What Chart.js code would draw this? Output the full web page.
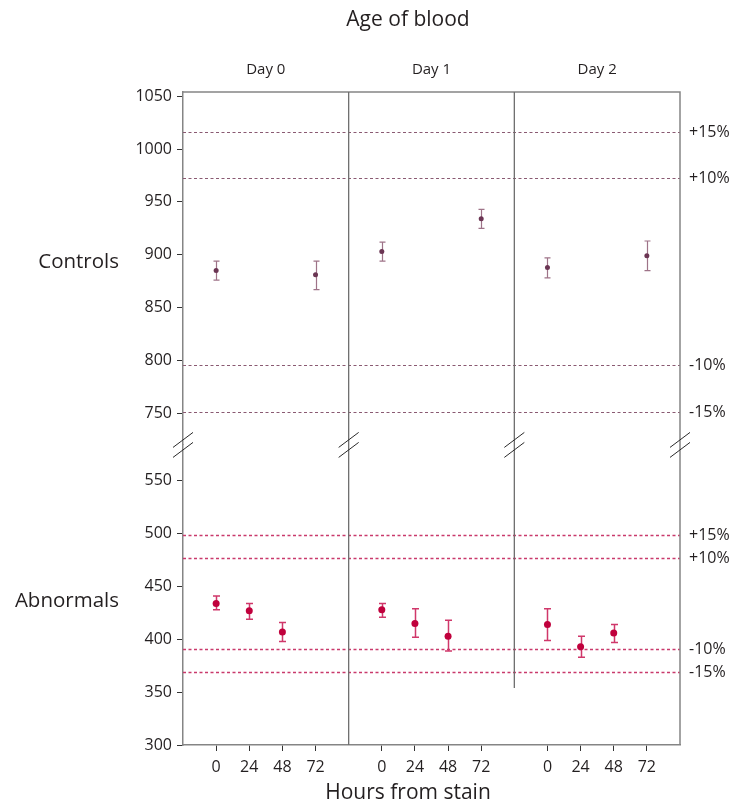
<!DOCTYPE html>
<html>
<head>
<meta charset="utf-8">
<script src="https://cdn.jsdelivr.net/npm/chart.js@4.4.1/dist/chart.umd.min.js"></script>
<style>
  html, body { margin: 0; padding: 0; background: #fff; }
  #wrap { width: 738px; height: 804px; }
</style>
</head>
<body>
<div id="wrap"><canvas id="chart"></canvas></div>
<script>
// Data
const dayLabels = ['Day 0', 'Day 1', 'Day 2'];
const hourTicks = [0, 24, 48, 72];
const DAY_SPAN = 120;

const controlDay = [0, 0, 1, 1, 2, 2];
const controlHour = [0, 72, 0, 72, 0, 72];
const controlMean = [885, 881, 903, 934, 888, 899];
const controlLow = [876, 867, 894, 925, 878, 885];
const controlHigh = [894, 894, 912, 943, 897, 913];

const abnormalDay = [0, 0, 0, 1, 1, 1, 2, 2, 2];
const abnormalHour = [0, 24, 48, 0, 24, 48, 0, 24, 48];
const abnormalMean = [434, 427, 407, 428, 415, 403, 414, 393, 406];
const abnormalLow = [428, 419, 398, 421, 402, 389, 399, 383, 397];
const abnormalHigh = [441, 434, 416, 434, 429, 418, 429, 403, 414];

const controlBase = 884;
const abnormalBase = 434;
const refPercents = [15, 10, -10, -15];

const controlTicks = [750, 800, 850, 900, 950, 1000, 1050];
const abnormalTicks = [300, 350, 400, 450, 500, 550];

// dividers between days (x value, lowest abnormal value reached)
const dividerX = [96, 216];
const dividerEnd = [300, 354];

const FONT = '"Open Sans", "Noto Sans", sans-serif';
const TEXT = '#231f20';
const AXIS = '#858585';

const toX = (d, h) => d * DAY_SPAN + h;

const drawRefs = (ctx, area, scale, base, color, width, dash) => {
  ctx.save();
  ctx.strokeStyle = color;
  ctx.lineWidth = width;
  ctx.setLineDash(dash);
  ctx.fillStyle = TEXT;
  ctx.font = '16px ' + FONT;
  ctx.textBaseline = 'middle';
  ctx.textAlign = 'left';
  refPercents.forEach(p => {
    const y = Math.round(scale.getPixelForValue(base * (1 + p / 100))) + 0.5;
    ctx.beginPath();
    ctx.moveTo(area.left, y);
    ctx.lineTo(area.right, y);
    ctx.stroke();
    ctx.fillText((p > 0 ? '+' : '') + p + '%', area.right + 9, y);
  });
  ctx.restore();
};

const drawErrors = (ctx, x, y, days, hours, low, high, color, cap, width) => {
  ctx.save();
  ctx.strokeStyle = color;
  ctx.lineWidth = width;
  days.forEach((d, i) => {
    const px = Math.round(x.getPixelForValue(toX(d, hours[i]))) + 0.5;
    const y1 = y.getPixelForValue(low[i]);
    const y2 = y.getPixelForValue(high[i]);
    ctx.beginPath();
    ctx.moveTo(px, y1); ctx.lineTo(px, y2);
    ctx.moveTo(px - cap, y1); ctx.lineTo(px + cap, y1);
    ctx.moveTo(px - cap, y2); ctx.lineTo(px + cap, y2);
    ctx.stroke();
  });
  ctx.restore();
};

const decorPlugin = {
  id: 'decor',
  beforeDatasetsDraw(chart) {
    const { ctx, chartArea: a, scales: { x, yTop, yBot } } = chart;
    drawRefs(ctx, a, yTop, controlBase, '#8a5a72', 1, [3, 2.5]);
    drawRefs(ctx, a, yBot, abnormalBase, '#c93a6c', 1.4, [3, 2.5]);

    ctx.save();
    ctx.strokeStyle = AXIS;
    ctx.lineWidth = 1.5;
    ctx.beginPath();
    ctx.moveTo(a.left, a.top); ctx.lineTo(a.right, a.top); ctx.lineTo(a.right, a.bottom);
    ctx.stroke();
    ctx.strokeStyle = '#6e6e6e';
    ctx.lineWidth = 1.3;
    dividerX.forEach((v, i) => {
      const px = x.getPixelForValue(v);
      ctx.beginPath();
      ctx.moveTo(px, a.top);
      ctx.lineTo(px, yBot.getPixelForValue(dividerEnd[i]));
      ctx.stroke();
    });
    ctx.restore();

    drawErrors(ctx, x, yTop, controlDay, controlHour, controlLow, controlHigh, '#9e7388', 3, 1.2);
    drawErrors(ctx, x, yBot, abnormalDay, abnormalHour, abnormalLow, abnormalHigh, '#d0376a', 3.5, 1.5);
  },
  afterDraw(chart) {
    const { ctx, chartArea: a, scales: { x, yTop } } = chart;
    ctx.save();
    // axis breaks
    const cy = yTop.bottom;
    ctx.strokeStyle = '#2a2a2a';
    ctx.lineWidth = 1;
    [a.left, ...dividerX.map(v => x.getPixelForValue(v)), a.right].forEach(cx => {
      [-5, 5].forEach(off => {
        ctx.beginPath();
        ctx.moveTo(cx - 10, cy + off + 7.5);
        ctx.lineTo(cx + 10, cy + off - 7.5);
        ctx.stroke();
      });
    });
    ctx.fillStyle = TEXT;
    ctx.textAlign = 'center';
    ctx.textBaseline = 'middle';
    // titles
    ctx.font = '21px ' + FONT;
    ctx.fillText('Age of blood', 408, 20);
    ctx.fillText('Hours from stain', 408, 793);
    // day labels
    ctx.font = '15px ' + FONT;
    dayLabels.forEach((lab, d) => {
      ctx.fillText(lab, x.getPixelForValue(toX(d, 36)), 70);
    });
    // panel labels
    ctx.textAlign = 'right';
    ctx.font = '20.5px ' + FONT;
    ctx.fillText('Controls', 119, 262);
    ctx.fillText('Abnormals', 119, 601);
    ctx.restore();
  }
};

const tickFont = { family: FONT, size: 16 };

const yScale = (ticks, min, max, weight) => ({
  type: 'linear',
  position: 'left',
  stack: 'panels',
  stackWeight: weight,
  min: min,
  max: max,
  afterBuildTicks: s => { s.ticks = ticks.map(v => ({ value: v })); },
  afterFit: s => { s.width = 183; },
  ticks: { font: tickFont, color: TEXT, padding: 5, callback: v => String(v) },
  grid: { drawOnChartArea: false, tickLength: 6, color: '#333' },
  border: { color: AXIS, width: 1.5 }
});

new Chart(document.getElementById('chart'), {
  type: 'scatter',
  data: {
    datasets: [
      {
        label: 'Controls',
        yAxisID: 'yTop',
        data: controlDay.map((d, i) => ({ x: toX(d, controlHour[i]), y: controlMean[i] })),
        pointRadius: 2.5,
        pointBackgroundColor: '#6b3553',
        pointBorderWidth: 0
      },
      {
        label: 'Abnormals',
        yAxisID: 'yBot',
        data: abnormalDay.map((d, i) => ({ x: toX(d, abnormalHour[i]), y: abnormalMean[i] })),
        pointRadius: 3.5,
        pointBackgroundColor: '#c0003c',
        pointBorderWidth: 0
      }
    ]
  },
  options: {
    responsive: true,
    maintainAspectRatio: false,
    animation: false,
    layout: { padding: { left: 0, right: 58, top: 92, bottom: 0 } },
    plugins: {
      legend: { display: false },
      tooltip: { enabled: false }
    },
    scales: {
      x: {
        type: 'linear',
        min: -24,
        max: 336,
        afterBuildTicks: s => {
          s.ticks = dayLabels.flatMap((_, d) => hourTicks.map(h => ({ value: toX(d, h) })));
        },
        afterFit: s => { s.height = 59; },
        ticks: {
          font: tickFont, color: TEXT, padding: 7, autoSkip: false, maxRotation: 0,
          callback: v => v % DAY_SPAN
        },
        grid: { drawOnChartArea: false, tickLength: 6, color: '#333' },
        border: { color: AXIS, width: 1.5 }
      },
      // stacked scales: the one listed last is placed on top
      yBot: yScale(abnormalTicks, 300, 584, 284),
      yTop: yScale(controlTicks, 720, 1054, 334)
    }
  },
  plugins: [decorPlugin]
});
</script>
</body>
</html>
